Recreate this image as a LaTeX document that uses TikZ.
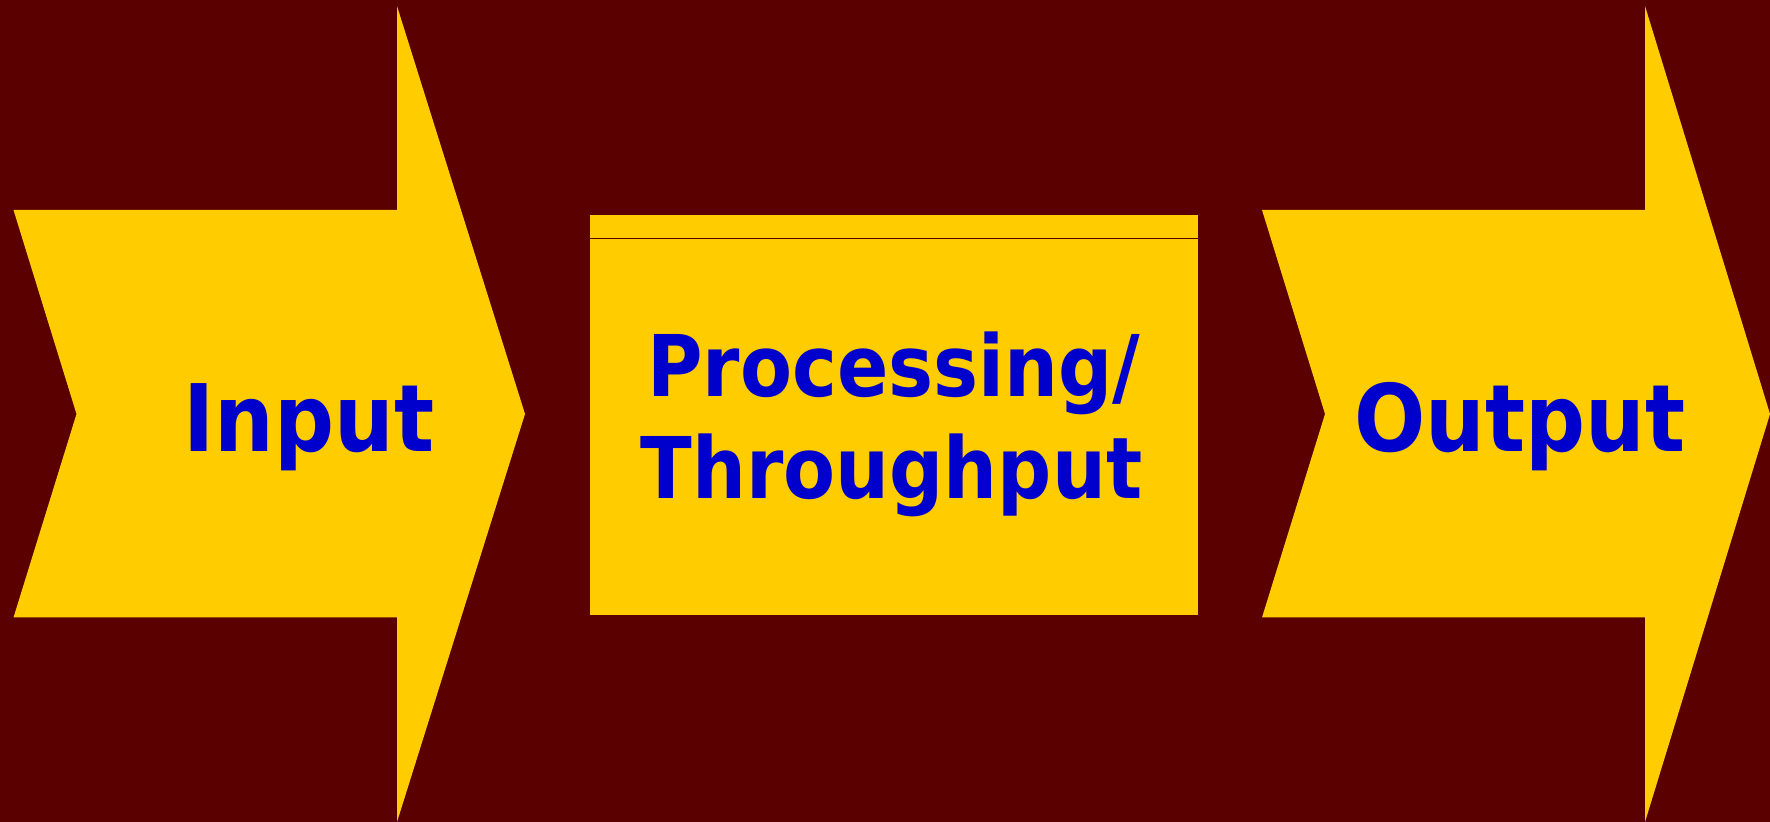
\documentclass[tikz,border=0pt]{standalone}
\usepackage{fontspec}
\setmainfont{DejaVu Sans}
\usetikzlibrary{positioning}

\definecolor{bgred}{RGB}{90,0,0}
\definecolor{gold}{RGB}{255,204,0}
\definecolor{txtblue}{RGB}{0,0,204}

\tikzset{
	arrowshape/.style={fill=gold, draw=none},
	arrowtext/.style={text=txtblue, inner sep=0pt, anchor=base, xscale=0.9,
		font=\bfseries\fontsize{26.5}{30}\selectfont},
	boxtext/.style={text=txtblue, inner sep=0pt, anchor=base, xscale=0.89,
		font=\bfseries\fontsize{24.2}{29}\selectfont},
	divider/.style={draw=bgred, line width=0.01cm}
}

\begin{document}
\begin{tikzpicture}[x=0.01cm, y=-0.01cm]
	% --- Sfondo ---
	\fill[bgred] (0,0) rectangle (1770,822);
	\useasboundingbox (0,0) rectangle (1770,822);
	
	% --- Freccia Input ---
	\begin{scope}
		\fill[arrowshape] (13.5,210) -- (397,210) -- (397,6) -- (525,414) -- (397,822)
			-- (397,617.5) -- (13.5,617.5) -- (76.5,414) -- cycle;
		\node[arrowtext] (input) at (309,452) {Input};
	\end{scope}
	
	% --- Blocco centrale ---
	\begin{scope}
		\node[fill=gold, inner sep=0pt, minimum width=6.08cm, minimum height=4cm,
			anchor=north west] (procbox) at (589,214) {};
		\draw[divider] ([yshift=-0.24cm]procbox.north west) -- ([yshift=-0.24cm]procbox.north east);
		\node[boxtext] (proc) at (894,397) {Processing/};
		\node[boxtext] (thru) at (891.5,499) {Throughput};
	\end{scope}
	
	% --- Freccia Output ---
	\begin{scope}
		\fill[arrowshape] (1262,210) -- (1645,210) -- (1645,6) -- (1770,414) -- (1645,822)
			-- (1645,617.5) -- (1262,617.5) -- (1325,414) -- cycle;
		\node[arrowtext] (output) at (1520,452) {Output};
	\end{scope}
\end{tikzpicture}
\end{document}
